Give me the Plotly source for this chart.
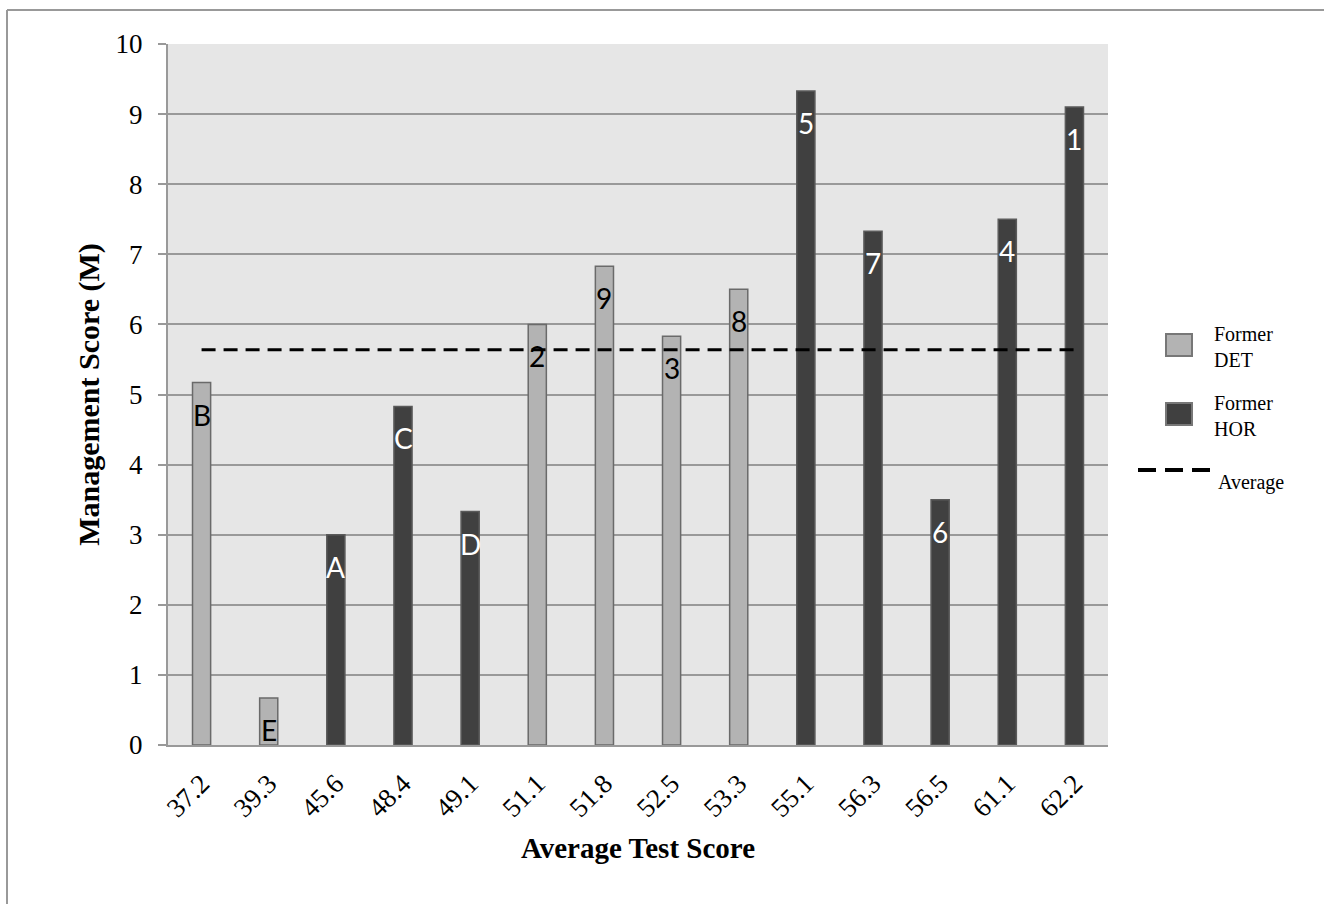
import plotly.graph_objects as go

categories = ["37.2", "39.3", "45.6", "48.4", "49.1", "51.1", "51.8", "52.5",
              "53.3", "55.1", "56.3", "56.5", "61.1", "62.2"]
groups = ["DET", "DET", "HOR", "HOR", "HOR", "DET", "DET", "DET",
          "DET", "HOR", "HOR", "HOR", "HOR", "HOR"]
scores = [5.17, 0.67, 3.0, 4.83, 3.33, 6.0, 6.83, 5.83,
          6.5, 9.33, 7.33, 3.5, 7.5, 9.1]
labels = ["B", "E", "A", "C", "D", "2", "9", "3",
          "8", "5", "7", "6", "4", "1"]
average = 5.64
legend_names = ["Former<br>DET", "Former<br>HOR", "Average"]

colors = {"DET": "#b3b3b3", "HOR": "#404040"}
edges = {"DET": "#6a6a6a", "HOR": "#5a5a5a"}
legend_edges = {"DET": "#777777", "HOR": "#777777"}
SERIF = "Liberation Serif, Times New Roman, serif"

idx = list(range(len(categories)))
det_x = [i for i, g in zip(idx, groups) if g == "DET"]
det_y = [v for v, g in zip(scores, groups) if g == "DET"]
hor_x = [i for i, g in zip(idx, groups) if g == "HOR"]
hor_y = [v for v, g in zip(scores, groups) if g == "HOR"]

fig = go.Figure()
fig.add_trace(go.Bar(
    x=det_x, y=det_y, name="Former DET", width=0.27,
    marker=dict(color=colors["DET"], line=dict(color=edges["DET"], width=1.5)),
))
fig.add_trace(go.Bar(
    x=hor_x, y=hor_y, name="Former HOR", width=0.27,
    marker=dict(color=colors["HOR"], line=dict(color=edges["HOR"], width=1.5)),
))
fig.add_trace(go.Scatter(
    x=idx, y=[average] * len(idx), mode="lines", name="Average",
    line=dict(color="black", width=3, dash="14px,8px"),
))

for i, v, lab, g in zip(idx, scores, labels, groups):
    fig.add_annotation(
        x=i, y=v, text=lab, showarrow=False, yshift=-32,
        font=dict(family="Lato, Open Sans, sans-serif", size=28,
                  color="black" if g == "DET" else "white"),
    )

L, R, T, B = 168, 1108, 44, 745
W, H = 1324, 904
px = lambda x: (x - L) / (R - L)
py = lambda y: (B - y) / (B - T)

# outer frame
fig.add_shape(type="line", xref="paper", yref="paper",
              x0=px(7), x1=px(7), y0=py(10), y1=py(920),
              line=dict(color="#999999", width=2))
fig.add_shape(type="line", xref="paper", yref="paper",
              x0=px(7), x1=px(1340), y0=py(10), y1=py(10),
              line=dict(color="#999999", width=2))

# legend
for gkey, cy, name in [("DET", 345, legend_names[0]), ("HOR", 414, legend_names[1])]:
    fig.add_shape(type="rect", xref="paper", yref="paper",
                  x0=px(1166), x1=px(1192), y0=py(cy + 11), y1=py(cy - 11),
                  fillcolor=colors[gkey], line=dict(color=legend_edges[gkey], width=2))
    fig.add_annotation(xref="paper", yref="paper", x=px(1212), y=py(cy + 2),
                       text=name, showarrow=False, xanchor="left", yanchor="middle",
                       align="left", font=dict(family=SERIF, size=20, color="black"))
fig.add_shape(type="line", xref="paper", yref="paper",
              x0=px(1138), x1=px(1210), y0=py(470), y1=py(470),
              line=dict(color="black", width=4, dash="18px,9px"))
fig.add_annotation(xref="paper", yref="paper", x=px(1216), y=py(482),
                   text=legend_names[2], showarrow=False, xanchor="left", yanchor="middle",
                   font=dict(family=SERIF, size=20, color="black"))

fig.update_layout(
    width=W, height=H,
    margin=dict(l=L, r=W - R, t=T, b=H - B),
    paper_bgcolor="white", plot_bgcolor="#e6e6e6",
    barmode="overlay", showlegend=False,
    font=dict(family=SERIF, color="black"),
    xaxis=dict(
        range=[-0.5, len(categories) - 0.5],
        tickmode="array", tickvals=idx, ticktext=categories,
        tickangle=-45, tickfont=dict(size=27), showgrid=False,
        showline=True, linecolor="#999999", linewidth=2,
        ticks="outside", ticklen=10, tickcolor="rgba(0,0,0,0)",
        zeroline=False,
        title=dict(text="<b>Average Test Score</b>", font=dict(size=29), standoff=16),
    ),
    yaxis=dict(
        range=[0, 10], dtick=1, tickfont=dict(size=27),
        showgrid=True, gridcolor="#999999", gridwidth=2,
        showline=True, linecolor="#999999", linewidth=2,
        ticks="outside", ticklen=8, tickcolor="#999999", tickwidth=2,
        zeroline=False, ticklabelstandoff=10,
        title=dict(text="<b>Management Score (M)</b>", font=dict(size=30), standoff=7),
    ),
)

fig.write_html("out.html")
